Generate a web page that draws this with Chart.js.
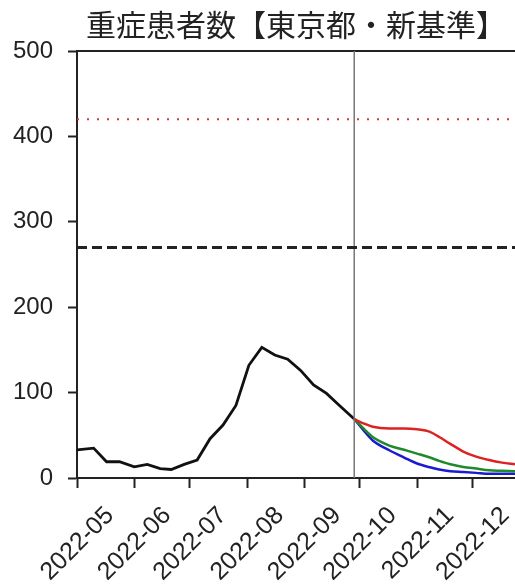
<!DOCTYPE html>
<html>
<head>
<meta charset="utf-8">
<script src="https://cdn.jsdelivr.net/npm/chart.js@4"></script>
<style>
  body { margin: 0; background: #fff; }
</style>
</head>
<body>
<canvas id="myChart" width="515" height="585"></canvas>
<script>
// days counted from 2022-05-01
const monthTicks = [0, 31, 61, 92, 123, 153, 184, 214];
const monthLabels = ['2022-05', '2022-06', '2022-07', '2022-08', '2022-09', '2022-10', '2022-11', '2022-12'];

// observed (black)
const obsDays = [0, 9, 16, 23, 31, 38, 45, 51, 58, 65, 72, 79, 86, 93, 100, 107, 114, 121, 128, 135, 142, 150];
const obsValues = [33, 35, 19, 19, 13, 16, 11, 10, 16, 21, 46, 62, 85, 132, 153, 144, 139, 126, 109, 99, 85, 69];

// projections
const projDays = [150, 155, 160, 169, 177, 184, 191, 196, 202, 209, 216, 223, 230, 237];
const projRed = [69, 64, 60, 58, 58, 57, 54, 48, 40, 31, 25, 21, 18, 16];
const projGreen = [69, 58, 48, 38, 33, 28.6, 24, 20, 16, 13, 11, 9, 8.5, 8];
const projBlue = [69, 56, 44, 32.5, 24, 17, 12.5, 10, 8, 7, 6, 5, 5, 5];

// reference lines
const bedLine = 420;
const alertLine = 270;
const todayDay = 150;
const xMin = 0, xMax = 237;

function pts(xs, ys) {
    return xs.map((x, i) => ({ x: x, y: ys[i] }))
}

const yFont = { family: 'Liberation Sans', size: 24 };
const xFont = { family: 'Liberation Sans', size: 25 };

const ctx = document.getElementById('myChart');
new Chart(ctx, {
    type: 'line',
    data: {
        datasets: [
            {
                data: [{ x: xMin, y: bedLine }, { x: xMax, y: bedLine }],
                borderColor: '#cc3a3a', borderWidth: 2, borderDash: [2, 8],
                pointRadius: 0
            },
            {
                data: [{ x: xMin, y: alertLine }, { x: xMax, y: alertLine }],
                borderColor: '#222', borderWidth: 3, borderDash: [10, 5],
                pointRadius: 0
            },
            {
                data: [{ x: todayDay, y: 0 }, { x: todayDay, y: 500 }],
                borderColor: '#777', borderWidth: 1.5,
                pointRadius: 0
            },
            {
                data: pts(projDays, projRed),
                borderColor: '#dd2222', borderWidth: 2.5,
                cubicInterpolationMode: 'monotone', pointRadius: 0
            },
            {
                data: pts(projDays, projGreen),
                borderColor: '#1f8a2a', borderWidth: 2.5,
                cubicInterpolationMode: 'monotone', pointRadius: 0
            },
            {
                data: pts(projDays, projBlue),
                borderColor: '#1a1ad0', borderWidth: 2.5,
                cubicInterpolationMode: 'monotone', pointRadius: 0
            },
            {
                data: pts(obsDays, obsValues),
                borderColor: '#111', borderWidth: 2.8,
                tension: 0, pointRadius: 0
            }
        ]
    },
    options: {
        responsive: false,
        animation: false,
        layout: { padding: { left: 0, right: 0, top: 6, bottom: 0 } },
        plugins: {
            legend: { display: false },
            tooltip: { enabled: false },
            title: {
                display: true,
                text: '重症患者数【東京都・新基準】',
                fullSize: false,
                color: '#222',
                font: { family: 'Noto Sans CJK JP', size: 30, weight: 'normal' },
                padding: { top: 1, bottom: 8 }
            }
        },
        scales: {
            x: {
                type: 'linear',
                min: xMin, max: xMax,
                afterBuildTicks: (axis) => {
                    axis.ticks = monthTicks.map(v => ({ value: v }))
                },
                afterFit: (axis) => {
                    axis.height = 107
                    axis.paddingLeft = 0
                    axis.paddingRight = 0
                },
                ticks: {
                    callback: (v) => monthLabels[monthTicks.indexOf(v)] || '',
                    font: xFont, color: '#222',
                    minRotation: 45, maxRotation: 45,
                    labelOffset: 33, padding: 13,
                    autoSkip: false
                },
                grid: { drawOnChartArea: false, drawTicks: true, tickLength: 10, tickColor: '#222', tickWidth: 2 },
                border: { display: true, color: '#222', width: 2 }
            },
            xTop: {
                type: 'linear', position: 'top',
                min: xMin, max: xMax,
                ticks: { display: false },
                grid: { display: false, drawTicks: false },
                border: { display: true, color: '#222', width: 2 }
            },
            y: {
                min: 0, max: 500,
                afterFit: (axis) => {
                    axis.width = 77
                },
                ticks: { stepSize: 100, font: yFont, color: '#222', padding: 15 },
                grid: { drawOnChartArea: false, drawTicks: true, tickLength: 9, tickColor: '#222', tickWidth: 2 },
                border: { display: true, color: '#222', width: 2 }
            }
        }
    }
});
</script>
</body>
</html>
